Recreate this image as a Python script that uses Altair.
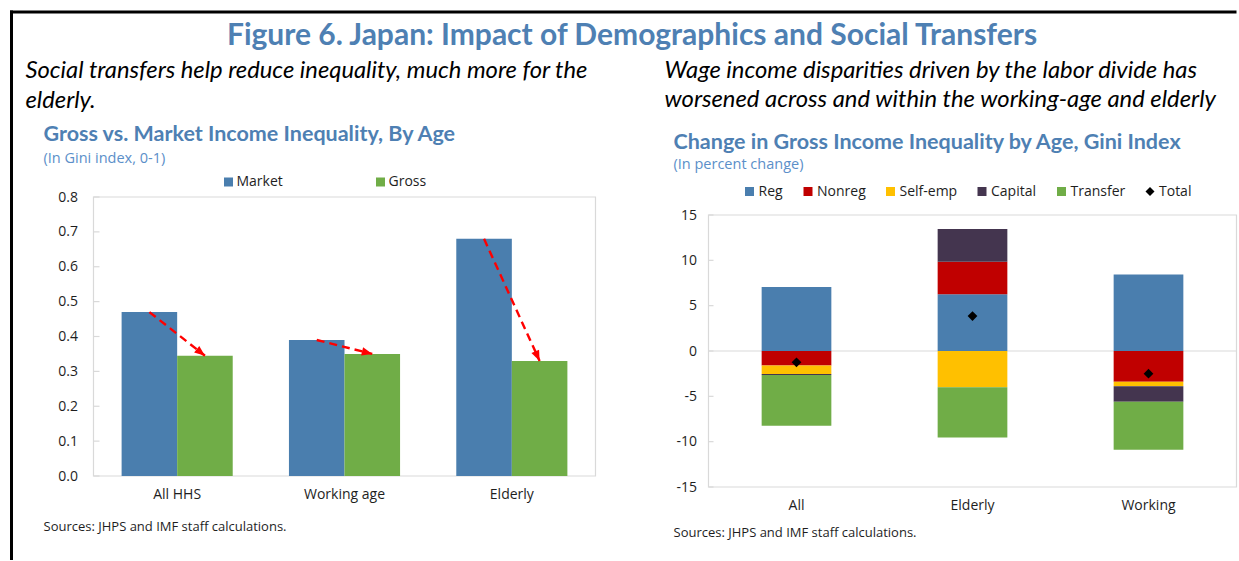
import math
import altair as alt
import pandas as pd

# ---------------- data ----------------
left_categories = ["All HHS", "Working age", "Elderly"]
left_series = ["Market", "Gross"]
market_values = [0.47, 0.39, 0.68]
gross_values = [0.345, 0.35, 0.33]
left_y_ticks = [0.0, 0.1, 0.2, 0.3, 0.4, 0.5, 0.6, 0.7, 0.8]

right_categories = ["All", "Elderly", "Working"]
right_series = ["Reg", "Nonreg", "Self-emp", "Capital", "Transfer"]
reg_values = [7.05, 6.25, 8.45]
nonreg_values = [-1.6, 3.6, -3.4]
selfemp_values = [-0.95, -4.0, -0.5]
capital_values = [-0.1, 3.6, -1.7]
transfer_values = [-5.6, -5.55, -5.3]
total_values = [-1.25, 3.85, -2.5]
right_y_ticks = [-15, -10, -5, 0, 5, 10, 15]

figure_title = "Figure 6. Japan: Impact of Demographics and Social Transfers"
left_lead = "Social transfers help reduce inequality, much more for the\nelderly."
right_lead = "Wage income disparities driven by the labor divide has\nworsened across and within the working-age and elderly"
left_title = "Gross vs. Market Income Inequality, By Age"
left_subtitle = "(In Gini index, 0-1)"
right_title = "Change in Gross Income Inequality by Age, Gini Index"
right_subtitle = "(In percent change)"
source_note = "Sources: JHPS and IMF staff calculations."

# ---------------- style ----------------
FONT = "Open Sans"
TFONT = "Lato"
BLUE = "#4A7EAE"
GREEN = "#70AD47"
RED = "#C00000"
GOLD = "#FFC000"
PURPLE = "#44354F"
TITLE_BLUE = "#4E80B3"
SUB_BLUE = "#5B8FC9"
FRAME = "#D9D9D9"
INK = "#1E1E1E"

# layout (page pixels)
L_X0, L_Y0, LW, LH = 92, 197, 502, 279
R_X0, RW = 707, 528
R_TOP, R_BOTTOM = 215, 487
RH = R_BOTTOM - L_Y0
SPACING = R_X0 - (L_X0 + LW)

one = pd.DataFrame({"k": [0]})


def text_layer(text, px, py, x0, size, font=FONT, weight="normal", style="normal",
               color=INK, align="left", line_height=None):
    kw = {}
    if line_height is not None:
        kw = {"lineBreak": "\n", "lineHeight": line_height}
    return alt.Chart(pd.DataFrame({"t": [text]})).mark_text(
        align=align, baseline="alphabetic", font=font, fontSize=size,
        fontWeight=weight, fontStyle=style, color=color, **kw
    ).encode(text="t:N", x=alt.value(px - x0), y=alt.value(py - L_Y0))


# ---------------- left panel ----------------
rows = []
for c, m, g in zip(left_categories, market_values, gross_values):
    rows.append({"cat": c, "series": "Market", "value": m, "ord": 0})
    rows.append({"cat": c, "series": "Gross", "value": g, "ord": 1})
left_df = pd.DataFrame(rows)

PAD_IN = 0.336
bar_w = LW / 3 * (1 - PAD_IN) / 2
heads = []
for c, m, g in zip(left_categories, market_values, gross_values):
    dy = (m - g) * LH / 0.8
    ang = math.degrees(math.atan2(bar_w, -dy))
    heads.append({"cat": c, "series": "Gross", "value": g, "angle": ang})
head_df = pd.DataFrame(heads)

lx = alt.X("cat:N", sort=left_categories,
           scale=alt.Scale(domain=left_categories, paddingInner=PAD_IN, paddingOuter=PAD_IN / 2),
           axis=alt.Axis(title=None, labelAngle=0, domain=False, ticks=False, labelPadding=11,
                         labelFont=FONT, labelFontSize=14, labelColor=INK))
lxo = alt.XOffset("series:N", sort=left_series,
                  scale=alt.Scale(domain=left_series, paddingInner=0, paddingOuter=0))
ly = alt.Y("value:Q", scale=alt.Scale(domain=[0, 0.8], nice=False),
           axis=alt.Axis(title=None, values=left_y_ticks, format=".1f", grid=False, domain=False,
                         ticks=False, labelPadding=16, labelFont=FONT, labelFontSize=14,
                         labelColor=INK))

left_frame = alt.Chart(one).mark_rect(fill="transparent", stroke=FRAME, strokeWidth=1.2).encode(
    x=alt.value(0), x2=alt.value(LW), y=alt.value(0), y2=alt.value(LH))
left_ticks = alt.Chart(pd.DataFrame({"value": left_y_ticks})).mark_rule(
    color=FRAME, strokeWidth=1.2).encode(y=ly, x=alt.value(0), x2=alt.value(6))

left_bars = alt.Chart(left_df).mark_bar().encode(
    x=lx, xOffset=lxo, y=ly,
    color=alt.Color("series:N", sort=left_series,
                    scale=alt.Scale(domain=left_series, range=[BLUE, GREEN]),
                    legend=alt.Legend(title=None, orient="none", legendX=220 - L_X0,
                                      legendY=182 - L_Y0 - 7, direction="horizontal", columns=2,
                                      symbolType="square", symbolSize=81, symbolStrokeWidth=0,
                                      labelFont=FONT, labelFontSize=14, labelColor=INK,
                                      labelOffset=1, columnPadding=90)))

left_arrow = alt.Chart(left_df).mark_line(color="#FF0000", strokeDash=[8, 5], strokeWidth=2.4).encode(
    x=lx, xOffset=lxo, y=ly, detail="cat:N", order=alt.Order("ord:Q"))

left_heads = alt.Chart(head_df).mark_point(
    shape="M0,0L-0.8,2L0.8,2Z", filled=True, size=110, color="#FF0000", opacity=1, strokeWidth=0
).encode(x=lx, xOffset=lxo, y=ly, angle=alt.Angle("angle:Q", scale=None))

left_texts = [
    text_layer(figure_title, 630.5, 44.5, L_X0, 30, font=TFONT, weight="bold", color=TITLE_BLUE,
               align="center"),
    text_layer(left_lead, 24, 78, L_X0, 23.75, font=TFONT, style="italic", color="#000",
               line_height=30),
    text_layer(left_title, 42, 141, L_X0, 21.5, font=TFONT, weight="bold", color=TITLE_BLUE),
    text_layer(left_subtitle, 42, 163, L_X0, 14.5, color=SUB_BLUE),
    text_layer(source_note, 42, 531, L_X0, 13),
]

borders = [
    alt.Chart(one).mark_rule(color="#000", strokeWidth=3).encode(
        x=alt.value(10 - L_X0), y=alt.value(10.5 - L_Y0), y2=alt.value(560 - L_Y0)),
    alt.Chart(one).mark_rule(color="#000", strokeWidth=3).encode(
        x=alt.value(8.5 - L_X0), x2=alt.value(1235 - L_X0), y=alt.value(12 - L_Y0)),
]

left = alt.layer(left_frame, left_ticks, left_bars, left_arrow, left_heads, *left_texts,
                 *borders).properties(width=LW, height=LH)

# ---------------- right panel ----------------
rrows = []
comp_values = [reg_values, nonreg_values, selfemp_values, capital_values, transfer_values]
for si, (s, vals) in enumerate(zip(right_series, comp_values)):
    for c, v in zip(right_categories, vals):
        rrows.append({"cat": c, "series": s, "value": v, "ord": si})
right_df = pd.DataFrame(rrows)
total_df = pd.DataFrame({"cat": right_categories, "series": ["Total"] * 3, "value": total_values})

legend_domain = right_series + ["Total"]
color_scale = alt.Scale(domain=legend_domain, range=[BLUE, RED, GOLD, PURPLE, GREEN, "#000000"])
shape_scale = alt.Scale(domain=legend_domain,
                        range=["square", "square", "square", "square", "square", "diamond"])
r_legend = alt.Legend(title=None, orient="none", legendX=741 - R_X0, legendY=192 - L_Y0 - 7.5,
                      direction="horizontal", columns=6, symbolSize=81, symbolStrokeWidth=0,
                      labelFont=FONT, labelFontSize=14, labelColor=INK, labelOffset=2,
                      columnPadding=17.5)

RPAD = 0.604
rx = alt.X("cat:N", sort=right_categories,
           scale=alt.Scale(domain=right_categories, paddingInner=RPAD, paddingOuter=RPAD / 2),
           axis=alt.Axis(title=None, labelAngle=0, domain=False, ticks=False, labelPadding=11,
                         labelFont=FONT, labelFontSize=14, labelColor=INK))
ry = alt.Y("value:Q", scale=alt.Scale(domain=[-15, 15], nice=False,
                                      range=[RH, R_TOP - L_Y0]),
           axis=alt.Axis(title=None, values=right_y_ticks, labelExpr="'' + datum.value",
                         grid=False, domain=False, ticks=False, labelPadding=12, labelFont=FONT,
                         labelFontSize=14, labelColor=INK),
           stack="zero")

right_frame = alt.Chart(one).mark_rect(fill="transparent", stroke=FRAME, strokeWidth=1.2).encode(
    x=alt.value(0), x2=alt.value(RW), y=alt.datum(15), y2=alt.datum(-15))
right_ticks = alt.Chart(pd.DataFrame({"value": right_y_ticks})).mark_rule(
    color=FRAME, strokeWidth=1.2).encode(y=alt.Y("value:Q"), x=alt.value(0), x2=alt.value(5))
zero_rule = alt.Chart(one).mark_rule(color=FRAME, strokeWidth=1.2).encode(y=alt.datum(0))

right_bars = alt.Chart(right_df).mark_bar().encode(
    x=rx, y=ry,
    color=alt.Color("series:N", scale=color_scale, legend=r_legend),
    order=alt.Order("ord:Q"))

right_points = alt.Chart(total_df).mark_point(filled=True, size=95, opacity=1, strokeWidth=0).encode(
    x=rx, y=alt.Y("value:Q"),
    color=alt.Color("series:N", scale=color_scale, legend=r_legend),
    shape=alt.Shape("series:N", scale=shape_scale, legend=r_legend))

right_texts = [
    text_layer(right_lead, 663, 78, R_X0, 23.8, font=TFONT, style="italic", color="#000",
               line_height=29),
    text_layer(right_title, 672, 149, R_X0, 21.5, font=TFONT, weight="bold", color=TITLE_BLUE),
    text_layer(right_subtitle, 672, 169, R_X0, 14.5, color=SUB_BLUE),
    text_layer(source_note, 672, 537, R_X0, 13),
]

right = alt.layer(right_frame, right_ticks, zero_rule, right_bars, right_points,
                  *right_texts).properties(width=RW, height=RH)

chart = alt.hconcat(left, right, spacing=SPACING, bounds="flush").resolve_scale(
    color="independent", shape="independent", x="independent", y="independent",
    xOffset="independent"
).properties(
    background="white",
    padding={"left": 8.5, "top": 9, "right": 0, "bottom": 0},
).configure_view(strokeOpacity=0)

chart.save("out.html", embed_options={"renderer": "svg", "actions": False})
